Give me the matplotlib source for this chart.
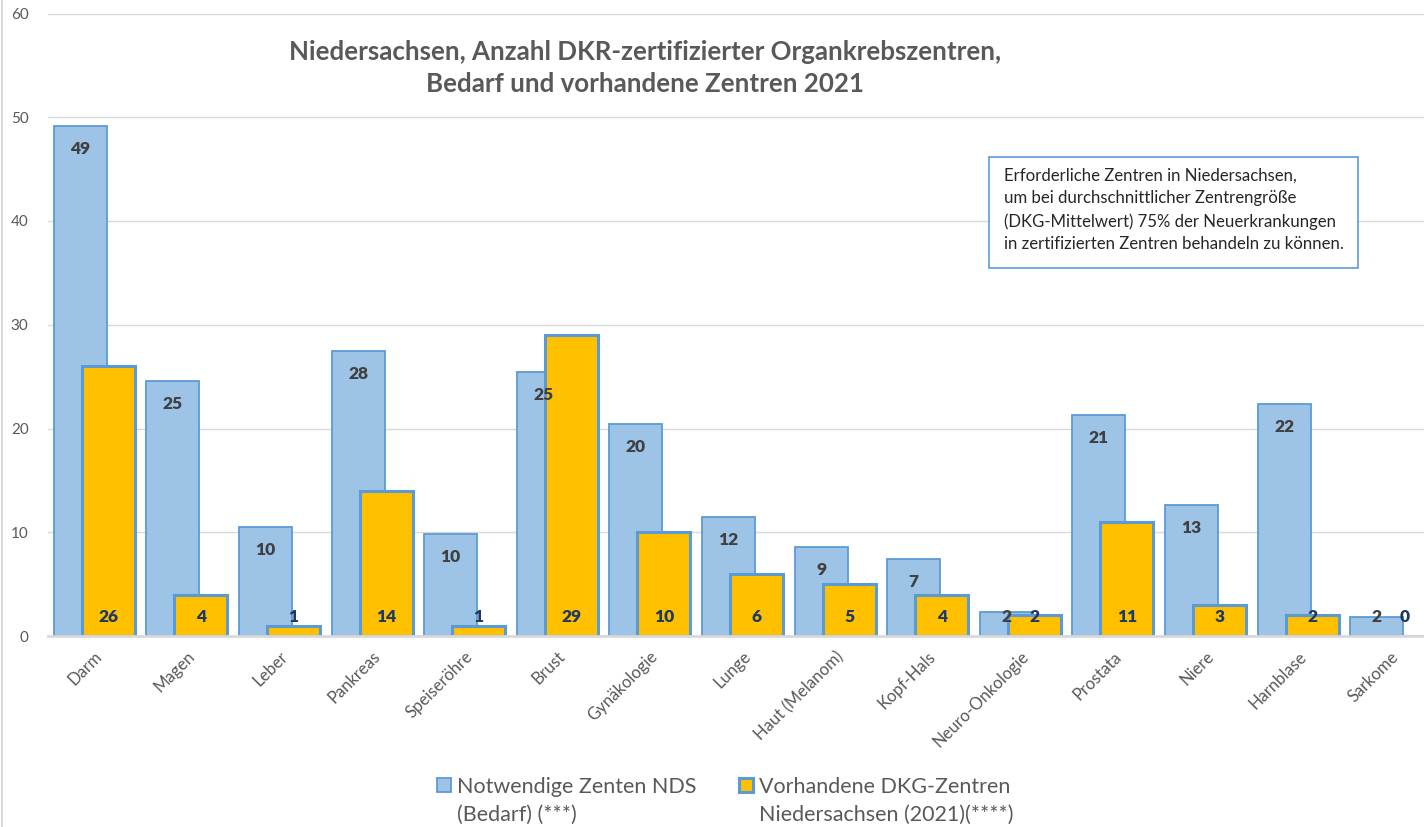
import matplotlib
matplotlib.use("Agg")
import matplotlib.pyplot as plt
from matplotlib.patches import Rectangle
from matplotlib.lines import Line2D
import numpy as np

categories = ["Darm", "Magen", "Leber", "Pankreas", "Speiseröhre", "Brust", "Gynäkologie",
              "Lunge", "Haut (Melanom)", "Kopf-Hals", "Neuro-Onkologie", "Prostata",
              "Niere", "Harnblase", "Sarkome"]
bedarf = [49.2, 24.6, 10.5, 27.5, 9.8, 25.4, 20.4, 11.5, 8.6, 7.4, 2.3, 21.3, 12.6, 22.4, 1.8]
vorhanden = [26, 4, 1, 14, 1, 29, 10, 6, 5, 4, 2, 11, 3, 2, 0]
yticks = [0, 10, 20, 30, 40, 50, 60]
series_names = ["Notwendige Zenten NDS\n(Bedarf) (***)",
                "Vorhandene DKG-Zentren\nNiedersachsen (2021)(****)"]
title = "Niedersachsen, Anzahl DKR-zertifizierter Organkrebszentren,\nBedarf und vorhandene Zentren 2021"
note = ("Erforderliche Zentren in Niedersachsen,\n"
        "um bei durchschnittlicher Zentrengröße\n"
        "(DKG-Mittelwert) 75% der Neuerkrankungen\n"
        "in zertifizierten Zentren behandeln zu können.")

FONT = "Lato"
GRAY = "#595959"
BLUE_FILL = "#9DC3E6"
BLUE_EDGE = "#5B9BD5"
ORANGE = "#FFC000"

W, H = 1424, 827
fig = plt.figure(figsize=(W / 100, H / 100), dpi=100)
fig.patch.set_facecolor("white")

ax_left = 48 / W
ax_bottom = 1 - 636 / H
ax_w = 15 * 92.6 / W
ax_h = (636 - 13.5) / H
ax = fig.add_axes([ax_left, ax_bottom, ax_w, ax_h])

x = np.arange(len(categories))
bw = 0.572
off = 0.151
ax.bar(x - off, bedarf, width=bw, color=BLUE_FILL, edgecolor=BLUE_EDGE, linewidth=1.3, zorder=2)
ax.bar(x + off, vorhanden, width=bw, color=ORANGE, edgecolor=BLUE_EDGE, linewidth=2.2, zorder=3)

ax.set_xlim(-0.5, len(categories) - 0.5)
ax.set_ylim(0, 60)
ax.set_yticks(yticks)
ax.set_yticklabels([str(t) for t in yticks], fontsize=11, color=GRAY, family=FONT)
ax.tick_params(axis="y", length=0, pad=14)
ax.tick_params(axis="x", length=0, pad=9)
ax.set_xticks(x)
ax.set_xticklabels(categories, rotation=45, ha="right", va="top", rotation_mode="anchor",
                   fontsize=12, color=GRAY, family=FONT)
ax.grid(axis="y", color="#D9D9D9", linewidth=1.0, zorder=0)
ax.set_axisbelow(True)
for s in ["top", "right", "left"]:
    ax.spines[s].set_visible(False)
ax.spines["bottom"].set_color("#D9D9D9")
ax.spines["bottom"].set_linewidth(2)
ax.spines["bottom"].set_zorder(4)

px = 60 / (636 - 13.5)  # data units per pixel
for i, v in enumerate(bedarf):
    yl = max(v - 23 * px, 19 * px)
    ax.text(i - off, yl, f"{v:.0f}", ha="center", va="center", fontsize=12.5,
            fontweight="heavy", color="#404040", family=FONT, zorder=5)
for i, v in enumerate(vorhanden):
    ax.text(i + off, 19 * px, f"{v:.0f}", ha="center", va="center", fontsize=12.5,
            fontweight="heavy", color="#203864", family=FONT, zorder=5)

fig.text(645 / W, 1 - 68 / H, title, ha="center", va="center", fontsize=18.6,
         fontweight="bold", color=GRAY, family=FONT, linespacing=1.4)

# note box
fig.patches.append(Rectangle((989 / W, 1 - 268 / H), (1358 - 989) / W, (268 - 157) / H,
                             transform=fig.transFigure, facecolor="white",
                             edgecolor=BLUE_EDGE, linewidth=1.2, zorder=5))
fig.text(1004 / W, 1 - 210 / H, note, ha="left", va="center", fontsize=12.1,
         color="#262626", family=FONT, linespacing=1.5, zorder=6)

# legend (manual, square aligned with first text line)
leg_items = [(437, 457, BLUE_FILL, 1.3), (739, 759, ORANGE, 2.2)]
for (sx, tx, fc, lw), name in zip(leg_items, series_names):
    fig.patches.append(Rectangle((sx / W, 1 - 792 / H), 14 / W, 14 / H,
                                 transform=fig.transFigure, facecolor=fc,
                                 edgecolor=BLUE_EDGE, linewidth=lw))
    fig.text(tx / W, 1 - 777 / H, name, ha="left", va="top", fontsize=15.5,
             color=GRAY, family=FONT, linespacing=1.5)

# chart border line on the left
fig.add_artist(Line2D([2 / W, 2 / W], [0, 1], transform=fig.transFigure, color="#D9D9D9", linewidth=1.5))

fig.savefig("out.png", dpi=100, facecolor="white")
